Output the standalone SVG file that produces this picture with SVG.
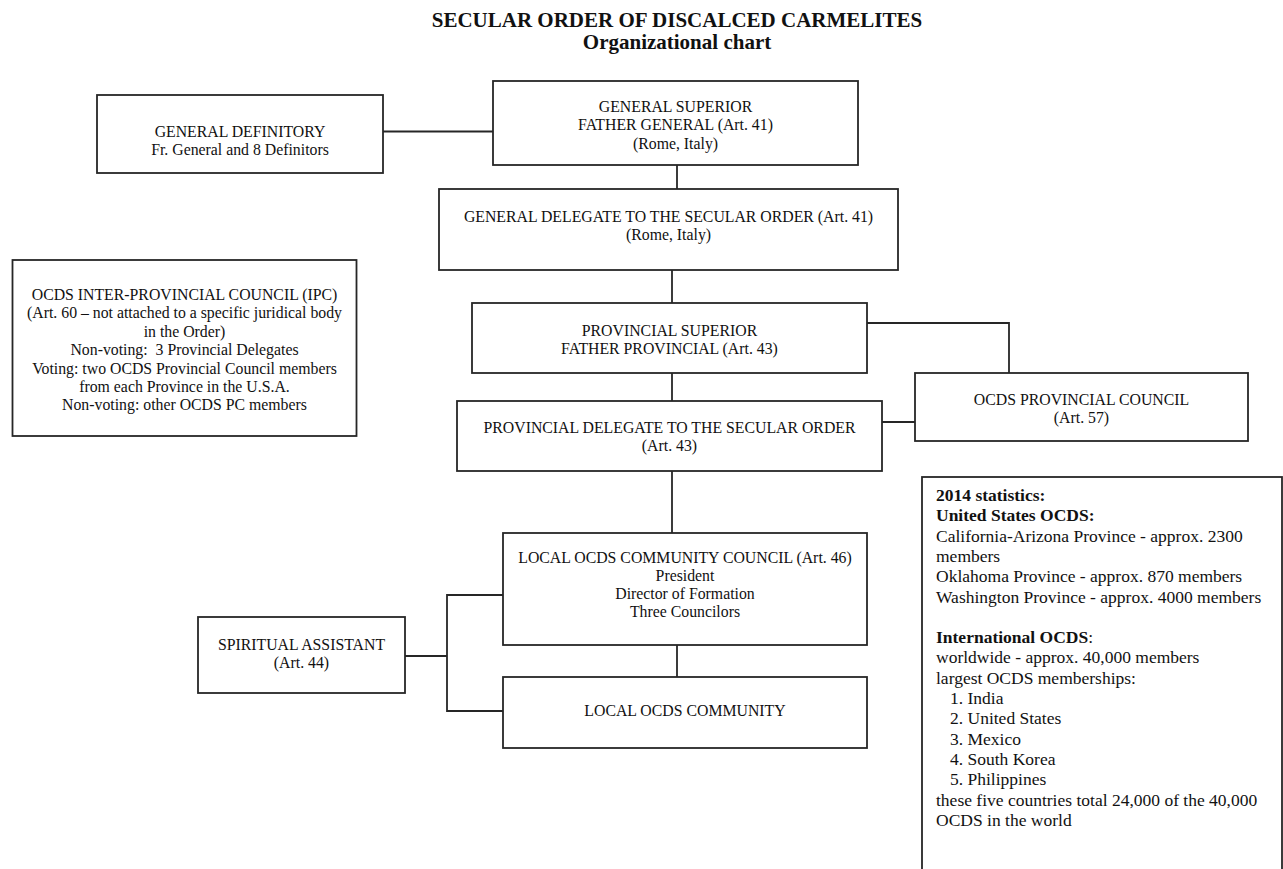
<svg xmlns="http://www.w3.org/2000/svg" width="1283" height="869" viewBox="0 0 1283 869">
<style>
  .box { fill: #ffffff; stroke: #262626; stroke-width: 1.8; }
  .conn { fill: none; stroke: #262626; stroke-width: 1.8; }
  text { font-family: "Liberation Serif", "Times New Roman", serif; fill: #111111; }
  .t { font-size: 15.8px; text-anchor: middle; }
  .title { font-size: 21px; font-weight: bold; text-anchor: middle; }
  .stats { font-size: 17.5px; }
  .b { font-weight: bold; }
</style>
<rect x="0" y="0" width="1283" height="869" fill="#ffffff"/>

<g id="title">
  <text class="title" x="677" y="27">SECULAR ORDER OF DISCALCED CARMELITES</text>
  <text class="title" x="677" y="49">Organizational chart</text>
</g>

<g id="connectors">
  <path class="conn" d="M383 131.5 H493"/>
  <path class="conn" d="M677 165 V189"/>
  <path class="conn" d="M672 270 V303"/>
  <path class="conn" d="M867 323 H1009 V373"/>
  <path class="conn" d="M672 373 V401"/>
  <path class="conn" d="M882 422 H915"/>
  <path class="conn" d="M672 471 V533"/>
  <path class="conn" d="M677 645 V677"/>
  <path class="conn" d="M405 656 H447"/>
  <path class="conn" d="M503 595 H447 V711 H503"/>
</g>

<g id="general-definitory">
  <rect class="box" x="97" y="95" width="286" height="78"/>
  <text class="t" x="240" y="137">GENERAL DEFINITORY</text>
  <text class="t" x="240" y="155">Fr. General and 8 Definitors</text>
</g>

<g id="general-superior">
  <rect class="box" x="493" y="81" width="365" height="84"/>
  <text class="t" x="675.5" y="112">GENERAL SUPERIOR</text>
  <text class="t" x="675.5" y="130.4">FATHER GENERAL (Art. 41)</text>
  <text class="t" x="675.5" y="148.8">(Rome, Italy)</text>
</g>

<g id="general-delegate">
  <rect class="box" x="439" y="189" width="459" height="81"/>
  <text class="t" x="668.5" y="222">GENERAL DELEGATE TO THE SECULAR ORDER (Art. 41)</text>
  <text class="t" x="668.5" y="240.4">(Rome, Italy)</text>
</g>

<g id="ipc">
  <rect class="box" x="12.5" y="260" width="344" height="176"/>
  <text class="t" x="184.5" y="300">OCDS INTER-PROVINCIAL COUNCIL (IPC)</text>
  <text class="t" x="184.5" y="318.4">(Art. 60 – not attached to a specific juridical body</text>
  <text class="t" x="184.5" y="336.8">in the Order)</text>
  <text class="t" x="184.5" y="355.2" xml:space="preserve">Non-voting:  3 Provincial Delegates</text>
  <text class="t" x="184.5" y="373.6">Voting: two OCDS Provincial Council members</text>
  <text class="t" x="184.5" y="392">from each Province in the U.S.A.</text>
  <text class="t" x="184.5" y="410.4">Non-voting: other OCDS PC members</text>
</g>

<g id="provincial-superior">
  <rect class="box" x="472" y="303" width="395" height="70"/>
  <text class="t" x="669.5" y="336">PROVINCIAL SUPERIOR</text>
  <text class="t" x="669.5" y="354.4">FATHER PROVINCIAL (Art. 43)</text>
</g>

<g id="provincial-council">
  <rect class="box" x="915" y="373" width="333" height="68"/>
  <text class="t" x="1081.5" y="405">OCDS PROVINCIAL COUNCIL</text>
  <text class="t" x="1081.5" y="423">(Art. 57)</text>
</g>

<g id="provincial-delegate">
  <rect class="box" x="457" y="401" width="425" height="70"/>
  <text class="t" x="669.5" y="433">PROVINCIAL DELEGATE TO THE SECULAR ORDER</text>
  <text class="t" x="669.5" y="451.4">(Art. 43)</text>
</g>

<g id="local-council">
  <rect class="box" x="503" y="533" width="364" height="112"/>
  <text class="t" x="685" y="563">LOCAL OCDS COMMUNITY COUNCIL (Art. 46)</text>
  <text class="t" x="685" y="581">President</text>
  <text class="t" x="685" y="599">Director of Formation</text>
  <text class="t" x="685" y="617">Three Councilors</text>
</g>

<g id="local-community">
  <rect class="box" x="503" y="677" width="364" height="71"/>
  <text class="t" x="685" y="716">LOCAL OCDS COMMUNITY</text>
</g>

<g id="spiritual-assistant">
  <rect class="box" x="198" y="617" width="207" height="76"/>
  <text class="t" x="301.5" y="650">SPIRITUAL ASSISTANT</text>
  <text class="t" x="301.5" y="668.4">(Art. 44)</text>
</g>

<g id="statistics">
  <rect class="box" x="922" y="477" width="360" height="420"/>
  <text class="stats b" x="936" y="501">2014 statistics:</text>
  <text class="stats b" x="936" y="521.3">United States OCDS:</text>
  <text class="stats" x="936" y="541.6">California-Arizona Province - approx. 2300</text>
  <text class="stats" x="936" y="561.9">members</text>
  <text class="stats" x="936" y="582.2">Oklahoma Province - approx. 870 members</text>
  <text class="stats" x="936" y="602.5">Washington Province - approx. 4000 members</text>
  <text class="stats" x="936" y="643.1"><tspan class="b">International OCDS</tspan>:</text>
  <text class="stats" x="936" y="663.4">worldwide - approx. 40,000 members</text>
  <text class="stats" x="936" y="683.7">largest OCDS memberships:</text>
  <text class="stats" x="950" y="704">1. India</text>
  <text class="stats" x="950" y="724.3">2. United States</text>
  <text class="stats" x="950" y="744.6">3. Mexico</text>
  <text class="stats" x="950" y="764.9">4. South Korea</text>
  <text class="stats" x="950" y="785.2">5. Philippines</text>
  <text class="stats" x="936" y="805.5">these five countries total 24,000 of the 40,000</text>
  <text class="stats" x="936" y="825.8">OCDS in the world</text>
</g>
</svg>
